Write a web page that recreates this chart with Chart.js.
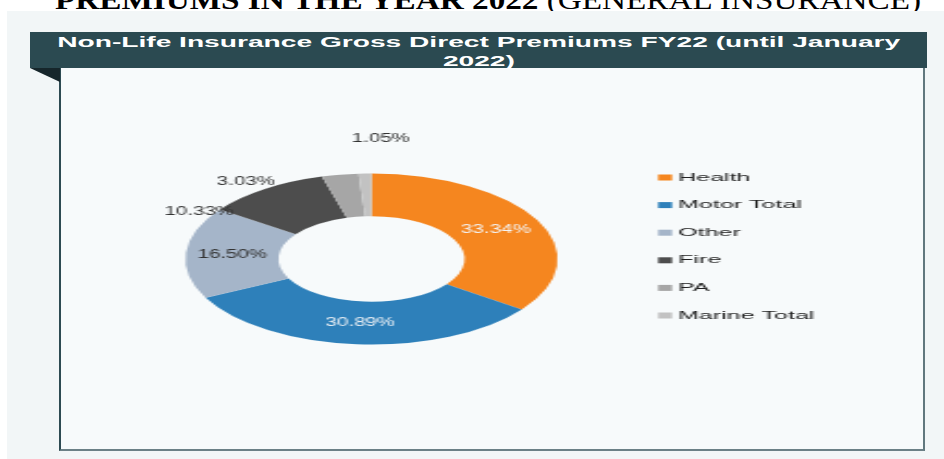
<!DOCTYPE html>
<html>
<head>
<meta charset="utf-8">
<script src="https://cdn.jsdelivr.net/npm/chart.js@4.4.1/dist/chart.umd.min.js"></script>
<style>
  html, body { margin: 0; padding: 0; }
  body {
    width: 944px; height: 459px; position: relative; overflow: hidden;
    background: #fff; font-family: "Liberation Sans", Arial, sans-serif;
  }
  #head { position: absolute; left: 0; top: 0; width: 944px; height: 11px; overflow: hidden; }
  #head .t {
    position: absolute; left: 55px; top: -13px; white-space: nowrap;
    font-family: "Liberation Serif", "Times New Roman", serif;
    font-size: 27px; line-height: 27px; color: #000; transform-origin: 0 0;
  }
  #bg { position: absolute; left: 7px; top: 11px; right: 0; bottom: 0; background: #f2f6f7; }
  #panel {
    position: absolute; left: 59px; top: 68px; width: 866px; height: 383px;
    box-sizing: border-box; background: #f7fafb;
    border-left: 2px solid #2d4a52; border-right: 2px solid #61787e; border-bottom: 2px solid #6b8086;
  }
  #bar {
    position: absolute; left: 30px; top: 32px; width: 897px; height: 36px;
    box-sizing: border-box; padding-top: 1px;
    background: #2b4a51; color: #fff; font-weight: bold; font-size: 14px;
  }
  #bar .line { height: 19px; line-height: 19px; text-align: center; white-space: nowrap; }
  #bar .line span { display: inline-block; transform-origin: 50% 50%; }
  #fold {
    position: absolute; left: 30px; top: 68px; width: 0; height: 0;
    border-top: 14px solid #16262b; border-left: 30px solid transparent;
  }
  #wrap { position: absolute; left: 61px; top: 68px; width: 862px; height: 381px; }
  #chart { display: block; }
</style>
</head>
<body>
<div id="head"><span class="t"><b>PREMIUMS IN THE YEAR 2022</b> (GENERAL INSURANCE)</span></div>
<div id="bg"></div>
<div id="panel"></div>
<div id="bar">
  <div class="line"><span id="t1">Non-Life Insurance Gross Direct Premiums FY22 (until January</span></div>
  <div class="line"><span id="t2">2022)</span></div>
</div>
<div id="fold"></div>
<div id="wrap"><canvas id="chart" width="396" height="381" style="width:862px;height:381px"></canvas></div>

<script>
// shares of gross direct premiums, FY22 up to January 2022
const categories = ['Health', 'Motor Total', 'Other', 'Fire', 'PA', 'Marine Total'];
const shares = [33.34, 30.89, 16.50, 10.33, 3.03, 1.05];
const pctLabels = shares.map(v => v.toFixed(2) + '%');
const sliceColors = ['#f5861f', '#2e80ba', '#a5b5c9', '#4d4d4d', '#a6a6a6', '#c2c2c2'];

// the picture is stretched sideways, so texts get squeezed back to match
function fitWidth(el, target) {
  const w = el.getBoundingClientRect().width;
  return target / w;
}
const headText = document.querySelector('#head .t');
headText.style.transform = `scaleX(${fitWidth(headText, 866)})`;
const t1 = document.getElementById('t1');
const k = fitWidth(t1, 843);
t1.style.transform = `scaleX(${k})`;
document.getElementById('t2').style.transform = `scaleX(${k})`;

const FONT = '"Liberation Sans", Arial, sans-serif';

const sliceLabels = {
  id: 'sliceLabels',
  afterDatasetsDraw(chart, args, opts) {
    const ctx = chart.ctx;
    const meta = chart.getDatasetMeta(0);
    ctx.save();
    ctx.font = `${opts.size}px ${FONT}`;
    ctx.textAlign = 'center';
    ctx.textBaseline = 'middle';
    meta.data.forEach((arc, i) => {
      const p = arc.getProps(['x', 'y', 'startAngle', 'endAngle', 'innerRadius', 'outerRadius'], true);
      let a = (p.startAngle + p.endAngle) / 2;
      let r = (p.innerRadius + p.outerRadius) / 2;
      const out = opts.outside[i];
      if (out) {
        // small slices: label sits outside the ring
        a += out[0] * Math.PI / 180;
        r = p.outerRadius * out[1];
      }
      ctx.save();
      ctx.translate(p.x + Math.cos(a) * r, p.y + Math.sin(a) * r);
      ctx.scale(opts.squeeze, 1);
      ctx.fillStyle = opts.colors[i];
      ctx.fillText(pctLabels[i], 0, 0);
      ctx.restore();
    });
    ctx.restore();
  }
};

// legend drawn by hand: the built-in one keeps a fixed gap between box and text
const sideLegend = {
  id: 'sideLegend',
  afterDraw(chart, args, opts) {
    const ctx = chart.ctx;
    const ds = chart.data.datasets[0];
    ctx.save();
    ctx.font = `${opts.size}px ${FONT}`;
    ctx.textAlign = 'left';
    ctx.textBaseline = 'middle';
    chart.data.labels.forEach((label, i) => {
      const y = opts.top + i * opts.step;
      ctx.fillStyle = ds.backgroundColor[i];
      ctx.fillRect(opts.x, y - opts.boxH / 2, opts.boxW, opts.boxH);
      ctx.fillStyle = opts.color;
      ctx.fillText(label, opts.x + opts.boxW + opts.gap, y);
    });
    ctx.restore();
  }
};

new Chart(document.getElementById('chart'), {
  type: 'doughnut',
  data: {
    labels: categories,
    datasets: [{
      data: shares,
      backgroundColor: sliceColors,
      borderWidth: 0,
      hoverOffset: 0
    }]
  },
  options: {
    responsive: false,
    animation: false,
    devicePixelRatio: 1,
    cutout: '50%',
    radius: 85.5,
    layout: { padding: { left: 0, right: 110.7, top: 1, bottom: 0 } },
    plugins: {
      tooltip: { enabled: false },
      legend: { display: false },
      sliceLabels: {
        size: 12,
        squeeze: 0.786,
        colors: ['#f4f4f4', '#e9eef4', '#333', '#333', '#333', '#333'],
        outside: { 3: [-24, 1.08], 4: [-27, 1.13], 5: [4, 1.41] }
      },
      sideLegend: {
        x: 274.3, top: 109.5, step: 27.6,
        boxW: 6.4, boxH: 6, gap: 2.8,
        size: 11.5, color: '#222'
      }
    }
  },
  plugins: [sliceLabels, sideLegend]
});
</script>
</body>
</html>
